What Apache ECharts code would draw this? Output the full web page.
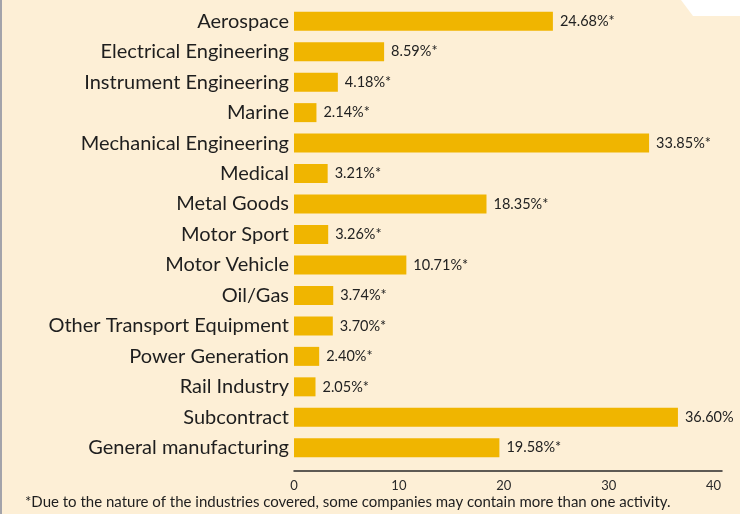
<!DOCTYPE html>
<html><head><meta charset="utf-8">
<script src="https://cdn.jsdelivr.net/npm/echarts@6/dist/echarts.min.js"></script>
<style>html,body{margin:0;padding:0;background:#fdefd6;}#c{width:740px;height:514px;}</style>
</head><body><div id="c"></div>
<script>
var categories = ["Aerospace","Electrical Engineering","Instrument Engineering","Marine","Mechanical Engineering","Medical","Metal Goods","Motor Sport","Motor Vehicle","Oil/Gas","Other Transport Equipment","Power Generation","Rail Industry","Subcontract","General manufacturing"];
var values = [24.68,8.59,4.18,2.14,33.85,3.21,18.35,3.26,10.71,3.74,3.70,2.40,2.05,36.60,19.58];
var valueLabels = ["24.68%*","8.59%*","4.18%*","2.14%*","33.85%*","3.21%*","18.35%*","3.26%*","10.71%*","3.74%*","3.70%*","2.40%*","2.05%*","36.60%","19.58%*"];
var xTicks = [0,10,20,30,40];
var footnote = "*Due to the nature of the industries covered, some companies may contain more than one activity.";

var chart = echarts.init(document.getElementById('c'));
chart.setOption({
  backgroundColor: '#fdefd6',
  animation: false,
  grid: {left: 294, right: 18, top: 6, bottom: 51, containLabel: false},
  xAxis: {
    type: 'value', min: 0, max: 40.8, interval: 10, offset: 8,
    splitLine: {show: false},
    axisLine: {show: true, lineStyle: {color: '#2a2a2a', width: 1.5}},
    axisTick: {show: false},
    axisLabel: {
      margin: 8, color: '#2a2a2a', fontFamily: 'Lato', fontSize: 13,
      formatter: function (v) { return xTicks.indexOf(v) >= 0 ? String(v) : ''; }
    }
  },
  yAxis: {
    type: 'category', data: categories, inverse: true,
    axisLine: {show: false}, axisTick: {show: false}, splitLine: {show: false},
    axisLabel: {margin: 5, color: '#1e1e1e', fontFamily: 'Lato', fontSize: 20}
  },
  series: [{
    type: 'bar', data: values, barWidth: 19,
    itemStyle: {color: '#f0b500'},
    label: {
      show: true, position: 'right', distance: 7,
      color: '#222', fontFamily: 'Lato', fontSize: 14.5,
      formatter: function (p) { return valueLabels[p.dataIndex]; }
    }
  }],
  graphic: [
    {type: 'rect', shape: {x: 0, y: 0, width: 2, height: 514}, style: {fill: '#a3a3aa'}},
    {type: 'polygon', shape: {points: [[681,0],[740,0],[740,16],[693,16]]}, style: {fill: '#ffffff'}},
    {type: 'text', left: 25, top: 495, style: {text: footnote, fill: '#1e1e1e', font: '15px Lato'}}
  ]
});
</script></body></html>
